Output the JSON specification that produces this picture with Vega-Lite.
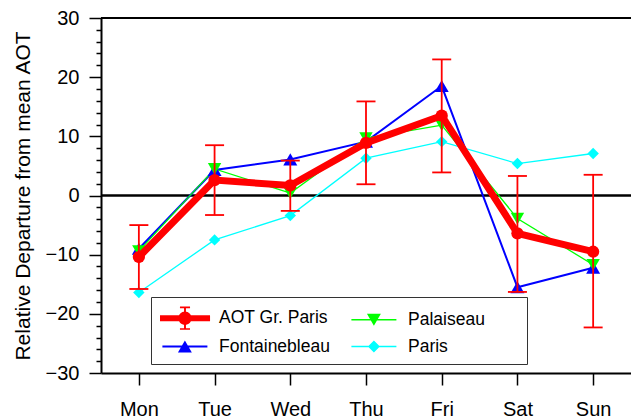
{
  "$schema": "https://vega.github.io/schema/vega-lite/v6.json",
  "description": "Weekly cycle of AOT relative departure for Greater Paris and three stations",
  "width": 530,
  "height": 355,
  "autosize": {"type": "none"},
  "padding": {"left": 101, "top": 18, "right": 0, "bottom": 45},
  "config": {
    "font": "Liberation Sans",
    "view": {"stroke": null},
    "axis": {
      "domainColor": "black",
      "domainWidth": 2,
      "tickColor": "black",
      "tickWidth": 1.5,
      "labelColor": "black",
      "labelFontSize": 20,
      "labelFont": "Liberation Sans",
      "labelOverlap": false,
      "labelBound": false,
      "labelFlush": false,
      "grid": false,
      "titleColor": "black",
      "titleFont": "Liberation Sans",
      "titleFontWeight": "normal",
      "titleFontSize": 21
    },
    "axisX": {"tickSize": 12, "labelPadding": 14, "labelAngle": 0, "title": null},
    "axisY": {"labelPadding": 10, "titlePadding": 12}
  },
  "data": {
    "values": [
      {"day": "Mon", "series": "AOT Gr. Paris", "value": -10.4, "lo": -15.8, "hi": -5.0},
      {"day": "Tue", "series": "AOT Gr. Paris", "value": 2.6, "lo": -3.3, "hi": 8.5},
      {"day": "Wed", "series": "AOT Gr. Paris", "value": 1.7, "lo": -2.6, "hi": 5.9},
      {"day": "Thu", "series": "AOT Gr. Paris", "value": 8.9, "lo": 1.9, "hi": 15.9},
      {"day": "Fri", "series": "AOT Gr. Paris", "value": 13.5, "lo": 3.9, "hi": 23.0},
      {"day": "Sat", "series": "AOT Gr. Paris", "value": -6.4, "lo": -16.3, "hi": 3.3},
      {"day": "Sun", "series": "AOT Gr. Paris", "value": -9.5, "lo": -22.3, "hi": 3.5},
      {"day": "Mon", "series": "Fontainebleau", "value": -9.0},
      {"day": "Tue", "series": "Fontainebleau", "value": 4.3},
      {"day": "Wed", "series": "Fontainebleau", "value": 6.1},
      {"day": "Thu", "series": "Fontainebleau", "value": 9.1},
      {"day": "Fri", "series": "Fontainebleau", "value": 18.5},
      {"day": "Sat", "series": "Fontainebleau", "value": -15.5},
      {"day": "Sun", "series": "Fontainebleau", "value": -12.2},
      {"day": "Mon", "series": "Palaiseau", "value": -9.4},
      {"day": "Tue", "series": "Palaiseau", "value": 4.5},
      {"day": "Wed", "series": "Palaiseau", "value": 0.4},
      {"day": "Thu", "series": "Palaiseau", "value": 9.7},
      {"day": "Fri", "series": "Palaiseau", "value": 11.9},
      {"day": "Sat", "series": "Palaiseau", "value": -3.9},
      {"day": "Sun", "series": "Palaiseau", "value": -11.7},
      {"day": "Mon", "series": "Paris", "value": -16.4},
      {"day": "Tue", "series": "Paris", "value": -7.5},
      {"day": "Wed", "series": "Paris", "value": -3.4},
      {"day": "Thu", "series": "Paris", "value": 6.3},
      {"day": "Fri", "series": "Paris", "value": 9.1},
      {"day": "Sat", "series": "Paris", "value": 5.4},
      {"day": "Sun", "series": "Paris", "value": 7.1}
    ]
  },
  "resolve": {"axis": {"y": "independent"}},
  "layer": [
    {
      "data": {"values": [{}]},
      "mark": {"type": "rule", "color": "black", "strokeWidth": 2.5},
      "encoding": {
        "y": {
          "datum": 0,
          "type": "quantitative",
          "scale": {"domain": [-30, 30], "nice": false, "zero": false},
          "axis": {
            "orient": "left",
            "values": [-28, -26, -24, -22, -18, -16, -14, -12, -8, -6, -4, -2, 2, 4, 6, 8, 12, 14, 16, 18, 22, 24, 26, 28],
            "tickSize": 5,
            "labels": false,
            "domain": false,
            "title": null
          }
        }
      }
    },
    {
      "data": {"values": [{}]},
      "mark": {"type": "rule", "color": "black", "strokeWidth": 2},
      "encoding": {"y": {"datum": 30, "type": "quantitative", "axis": null}}
    },
    {
      "transform": [{"filter": "datum.series !== 'AOT Gr. Paris'"}],
      "mark": {"type": "line"},
      "encoding": {
        "x": {
          "field": "day",
          "type": "ordinal",
          "scale": {"type": "point", "domain": ["Mon", "Tue", "Wed", "Thu", "Fri", "Sat", "Sun"], "padding": 0.5},
          "axis": {"labelAngle": 0, "title": null}
        },
        "y": {
          "field": "value",
          "type": "quantitative",
          "title": "Relative Departure from mean AOT",
          "axis": {
            "orient": "left",
            "values": [-30, -20, -10, 0, 10, 20, 30],
            "tickSize": 12
          }
        },
        "stroke": {
          "field": "series",
          "type": "nominal",
          "scale": {"domain": ["Fontainebleau", "Palaiseau", "Paris"], "range": ["#0000ff", "#00ff00", "#00ffff"]},
          "legend": null
        },
        "strokeWidth": {"condition": {"test": "datum.series === 'Fontainebleau'", "value": 2}, "value": 1.3}
      }
    },
    {
      "transform": [{"filter": "datum.series !== 'AOT Gr. Paris'"}],
      "mark": {"type": "point", "filled": true, "opacity": 1},
      "encoding": {
        "x": {"field": "day", "type": "ordinal"},
        "y": {"field": "value", "type": "quantitative", "axis": null},
        "fill": {
          "field": "series",
          "type": "nominal",
          "scale": {"domain": ["Fontainebleau", "Palaiseau", "Paris"], "range": ["#0000ff", "#00ff00", "#00ffff"]},
          "legend": null
        },
        "shape": {
          "condition": [
            {"test": "datum.series === 'Fontainebleau'", "value": "triangle-up"},
            {"test": "datum.series === 'Palaiseau'", "value": "triangle-down"}
          ],
          "value": "diamond"
        },
        "size": {
          "condition": [
            {"test": "datum.series === 'Fontainebleau'", "value": 196},
            {"test": "datum.series === 'Palaiseau'", "value": 180}
          ],
          "value": 130
        }
      }
    },
    {
      "transform": [{"filter": "datum.series === 'AOT Gr. Paris'"}],
      "mark": {"type": "line", "color": "#ff0000", "strokeWidth": 7},
      "encoding": {
        "x": {"field": "day", "type": "ordinal"},
        "y": {"field": "value", "type": "quantitative", "axis": null}
      }
    },
    {
      "transform": [{"filter": "datum.series === 'AOT Gr. Paris'"}],
      "mark": {"type": "circle", "color": "#ff0000", "size": 150, "opacity": 1},
      "encoding": {
        "x": {"field": "day", "type": "ordinal"},
        "y": {"field": "value", "type": "quantitative", "axis": null}
      }
    },
    {
      "transform": [{"filter": "datum.series === 'AOT Gr. Paris'"}],
      "mark": {"type": "rule", "color": "#ff0000", "strokeWidth": 1.8},
      "encoding": {
        "x": {"field": "day", "type": "ordinal"},
        "y": {"field": "lo", "type": "quantitative", "axis": null},
        "y2": {"field": "hi"}
      }
    },
    {
      "transform": [{"filter": "datum.series === 'AOT Gr. Paris'"}],
      "mark": {"type": "tick", "color": "#ff0000", "size": 19, "thickness": 1.8, "opacity": 1},
      "encoding": {
        "x": {"field": "day", "type": "ordinal"},
        "y": {"field": "lo", "type": "quantitative", "axis": null}
      }
    },
    {
      "transform": [{"filter": "datum.series === 'AOT Gr. Paris'"}],
      "mark": {"type": "tick", "color": "#ff0000", "size": 19, "thickness": 1.8, "opacity": 1},
      "encoding": {
        "x": {"field": "day", "type": "ordinal"},
        "y": {"field": "hi", "type": "quantitative", "axis": null}
      }
    },
    {
      "mark": {"type": "point", "filled": true, "opacity": 0, "size": 576},
      "encoding": {
        "x": {"field": "day", "type": "ordinal"},
        "y": {"field": "value", "type": "quantitative", "axis": null},
        "color": {
          "field": "series",
          "type": "nominal",
          "scale": {
            "domain": ["AOT Gr. Paris", "Fontainebleau", "Palaiseau", "Paris"],
            "range": ["#ff0000", "#0000ff", "#00ff00", "#00ffff"]
          },
          "legend": {
            "title": null,
            "orient": "none",
            "legendX": 50,
            "legendY": 279,
            "columns": 2,
            "padding": 9,
            "strokeColor": "#333333",
            "fillColor": "white",
            "labelFont": "Liberation Sans",
            "labelFontSize": 17.5,
            "labelColor": "black",
            "labelOffset": 35,
            "labelLimit": 300,
            "rowPadding": 4.5,
            "columnPadding": 19,
            "symbolSize": 576,
            "symbolStrokeWidth": 0,
            "symbolOpacity": 1,
            "labelExpr": "datum.label === 'Palaiseau' ? 'Palaiseau    \u2800' : datum.label"
          }
        },
        "shape": {
          "field": "series",
          "type": "nominal",
          "scale": {
            "domain": ["AOT Gr. Paris", "Fontainebleau", "Palaiseau", "Paris"],
            "range": [
              "M-1,-0.25H3.17V0.25H-1Z M1.633,0A0.55,0.55 0 1,1 0.533,0A0.55,0.55 0 1,1 1.633,0Z M1.003,-0.97H1.163V0.97H1.003Z M0.663,-0.97H1.503V-0.83H0.663Z M0.663,0.83H1.503V0.97H0.663Z",
              "M-0.8,-0.08H2.95V0.08H-0.8Z M1.075,-0.5L1.655,0.5H0.495Z",
              "M-0.8,-0.055H2.95V0.055H-0.8Z M0.495,-0.5H1.655L1.075,0.5Z",
              "M-0.8,-0.055H2.95V0.055H-0.8Z M1.075,-0.5L1.575,0L1.075,0.5L0.575,0Z"
            ]
          },
          "legend": {
            "title": null,
            "orient": "none",
            "legendX": 50,
            "legendY": 279,
            "columns": 2,
            "padding": 9,
            "strokeColor": "#333333",
            "fillColor": "white",
            "labelFont": "Liberation Sans",
            "labelFontSize": 17.5,
            "labelColor": "black",
            "labelOffset": 35,
            "labelLimit": 300,
            "rowPadding": 4.5,
            "columnPadding": 19,
            "symbolSize": 576,
            "symbolStrokeWidth": 0,
            "symbolOpacity": 1,
            "labelExpr": "datum.label === 'Palaiseau' ? 'Palaiseau    \u2800' : datum.label"
          }
        }
      }
    }
  ]
}
